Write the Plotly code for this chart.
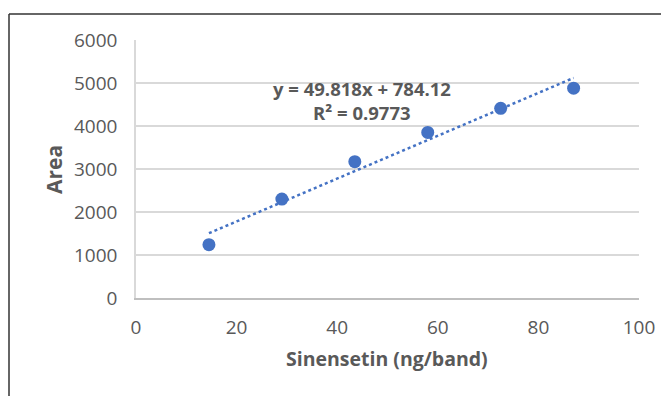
import plotly.graph_objects as go

# Data
conc_ng_band = [14.5, 29.0, 43.5, 58.0, 72.5, 87.0]
area = [1240, 2300, 3170, 3850, 4410, 4880]

# Linear trendline as labelled on the chart
slope = 49.818
intercept = 784.12
r_squared = 0.9773

x_ticks = [0, 20, 40, 60, 80, 100]
y_ticks = [0, 1000, 2000, 3000, 4000, 5000, 6000]

BLUE = "#4472C4"
GRAY_TEXT = "#595959"
FONT = "Open Sans"

trend_x = [conc_ng_band[0], conc_ng_band[-1]]
trend_y = [slope * v + intercept for v in trend_x]

fig = go.Figure()
fig.add_trace(go.Scatter(
    x=trend_x, y=trend_y, mode="lines",
    line=dict(color=BLUE, width=2.5, dash="dot"),
    hoverinfo="skip", showlegend=False,
))
fig.add_trace(go.Scatter(
    x=conc_ng_band, y=area, mode="markers",
    marker=dict(color=BLUE, size=13),
    showlegend=False,
))

OFF = 8  # page body margin
W, H = 669, 396
# plot area in page pixels: x 136..639, y 40..298
L = 136 - OFF
T = 40 - OFF
R = W - (639 - OFF)
B = H - (298 - OFF)
pw, ph = W - L - R, H - T - B

def px_x(px):
    return (px - OFF - L) / pw

def px_y(py):
    return (H - B - (py - OFF)) / ph

def label(text, x, y, size, angle=0):
    return dict(text=text, x=px_x(x), y=px_y(y), xref="paper", yref="paper",
                xanchor="center", yanchor="middle", showarrow=False,
                textangle=angle,
                font=dict(size=size, color=GRAY_TEXT, family=FONT))

fig.update_layout(
    width=W, height=H,
    margin=dict(l=L, r=R, t=T, b=B),
    paper_bgcolor="white", plot_bgcolor="white",
    font=dict(family=FONT, color=GRAY_TEXT),
    xaxis=dict(
        range=[0, 100], tickvals=x_ticks, showgrid=False, zeroline=False,
        showline=True, linecolor="#bfbfbf", linewidth=1.5,
        tickfont=dict(size=19, color=GRAY_TEXT), ticks="",
        ticklabelstandoff=11,
    ),
    yaxis=dict(
        range=[0, 6000], tickvals=y_ticks, showgrid=True,
        gridcolor="#d9d9d9", gridwidth=1.5, zeroline=False,
        showline=True, linecolor="#d9d9d9", linewidth=1.5,
        tickfont=dict(size=19, color=GRAY_TEXT), ticks="",
        ticklabelstandoff=13,
    ),
    shapes=[
        dict(type="line", xref="paper", yref="paper",
             x0=px_x(9), x1=px_x(680), y0=px_y(14), y1=px_y(14),
             line=dict(color="#333333", width=1.5)),
        dict(type="line", xref="paper", yref="paper",
             x0=px_x(9), x1=px_x(9), y0=px_y(14), y1=px_y(410),
             line=dict(color="#333333", width=1.5)),
    ],
    annotations=[
        label("<b>y = 49.818x + 784.12</b>", 362, 88, 18.5),
        label(f"<b>R² = {r_squared}</b>", 362, 113, 18.5),
        label("<b>Sinensetin (ng/band)</b>", 387, 358, 19.5),
        label("<b>Area</b>", 54, 170, 21, angle=-90),
    ],
)

fig.write_html("out.html")
